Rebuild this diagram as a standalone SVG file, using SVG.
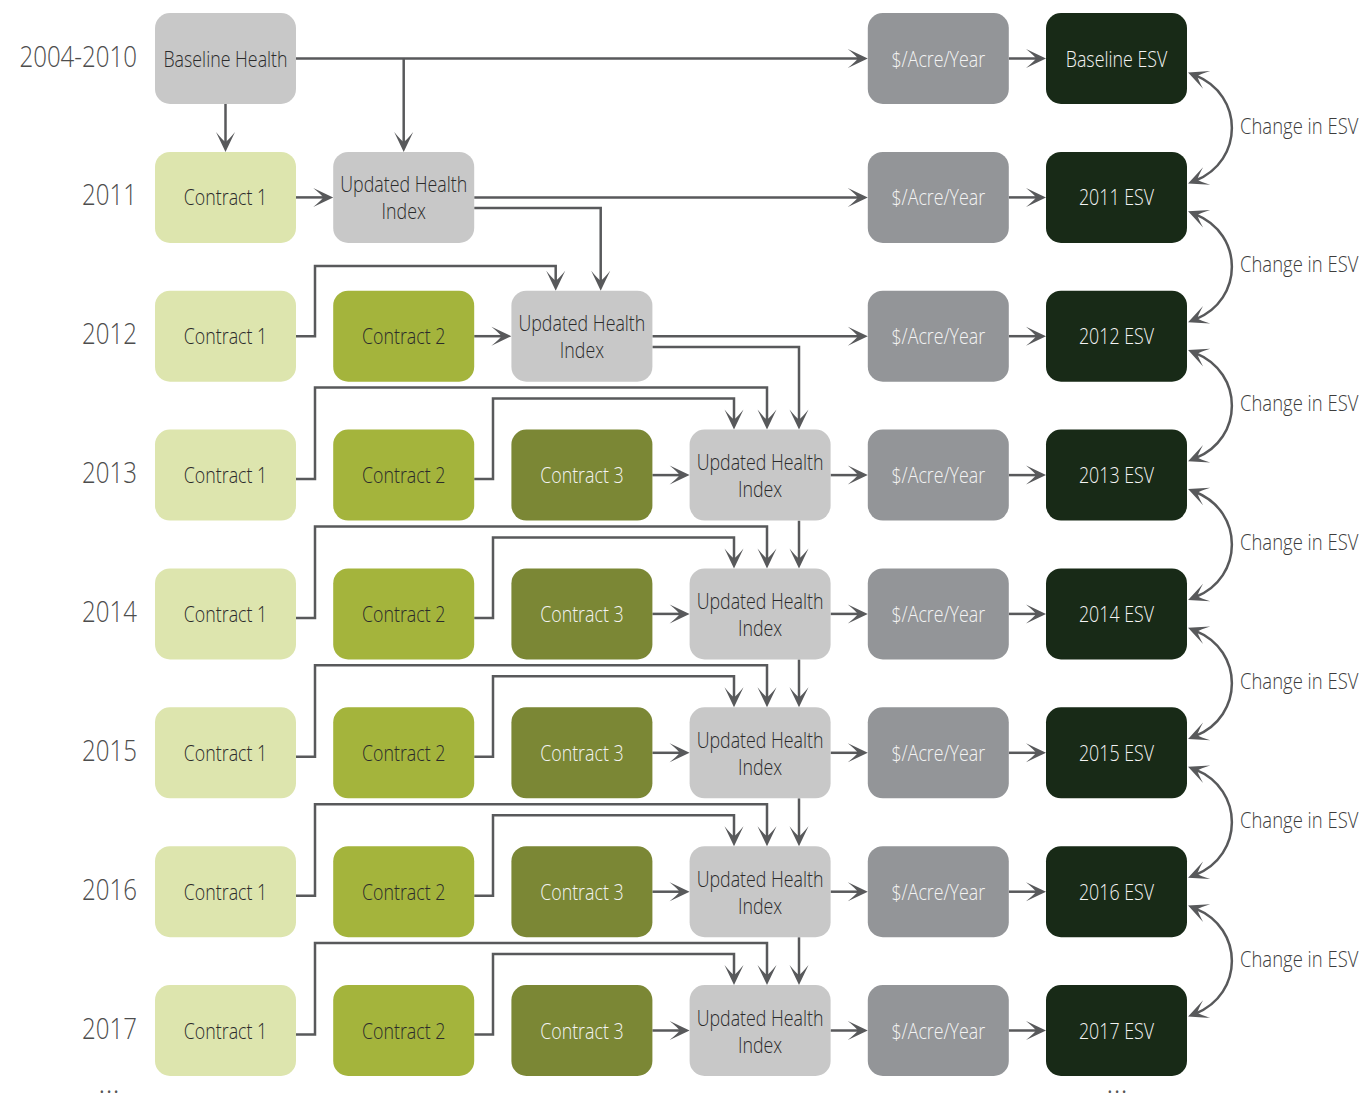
<svg xmlns="http://www.w3.org/2000/svg" width="1365" height="1095" viewBox="0 0 1365 1095">
<style>
.n{stroke:none}
.bh{fill:#c8c8c8}
.c1{fill:#dde5ae}
.c2{fill:#a4b43c}
.c3{fill:#7b8735}
.ac{fill:#939598}
.es{fill:#182a17}
text{font-family:"Open Sans","Liberation Sans",sans-serif;font-weight:300;font-size:22px;text-anchor:middle}
.td{fill:#2b2b2b}
.tw{fill:#f4f4f4}
.yr{font-size:29px;fill:#4d4d4d;text-anchor:end}
.ch{fill:#3d3d3d;text-anchor:start}
.el{font-size:30px;fill:#555555}
#connectors path{fill:none;stroke:#58595b;stroke-width:2.5;marker-end:url(#ah)}
#connectors path.cv{marker-start:url(#ah)}
</style>
<defs>
<marker id="ah" viewBox="0 0 22 22" refX="13" refY="11" markerWidth="22" markerHeight="22" markerUnits="userSpaceOnUse" orient="auto-start-reverse">
<path d="M21,11 L1,1.5 Q9,8 11,11 Q9,14 1,20.5 Z" fill="#58595b"/>
</marker>
</defs>

<g id="year-labels">
<text class="yr" transform="translate(137,66.5) scale(0.83,1)">2004-2010</text>
<text class="yr" transform="translate(137,205.4) scale(0.83,1)">2011</text>
<text class="yr" transform="translate(137,344.2) scale(0.83,1)">2012</text>
<text class="yr" transform="translate(137,483.1) scale(0.83,1)">2013</text>
<text class="yr" transform="translate(137,621.9) scale(0.83,1)">2014</text>
<text class="yr" transform="translate(137,760.8) scale(0.83,1)">2015</text>
<text class="yr" transform="translate(137,899.7) scale(0.83,1)">2016</text>
<text class="yr" transform="translate(137,1038.5) scale(0.83,1)">2017</text>
<text class="el" x="109" y="1093">...</text>
<text class="el" x="1117" y="1093">...</text>
</g>

<g id="connectors">
<path d="M296,58.5 H859.8"/>
<path d="M403.7,58.5 V143.9"/>
<path d="M225.5,104 V143.9"/>
<path d="M1008.8,58.5 H1038"/>
<path d="M296,197.4 H325.2"/>
<path d="M474.2,197.4 H859.8"/>
<path d="M474.2,208 H600.7 V282.7"/>
<path d="M1008.8,197.4 H1038"/>
<path d="M296,336.2 H315 V266 H555.7 V282.7"/>
<path d="M474.2,336.2 H503.4"/>
<path d="M652.4,336.2 H859.8"/>
<path d="M652.4,347 H799 V421.6"/>
<path d="M1008.8,336.2 H1038"/>
<path d="M296,479.1 H315 V387.6 H767 V421.6"/>
<path d="M474.2,479.1 H493 V398.6 H734 V421.6"/>
<path d="M652.4,475.1 H681.6"/>
<path d="M830.6,475.1 H859.8"/>
<path d="M1008.8,475.1 H1038"/>
<path d="M296,617.9 H315 V526.4 H767 V560.4"/>
<path d="M474.2,617.9 H493 V537.4 H734 V560.4"/>
<path d="M799,520.6 V560.4"/>
<path d="M652.4,613.9 H681.6"/>
<path d="M830.6,613.9 H859.8"/>
<path d="M1008.8,613.9 H1038"/>
<path d="M296,756.8 H315 V665.3 H767 V699.3"/>
<path d="M474.2,756.8 H493 V676.3 H734 V699.3"/>
<path d="M799,659.4 V699.3"/>
<path d="M652.4,752.8 H681.6"/>
<path d="M830.6,752.8 H859.8"/>
<path d="M1008.8,752.8 H1038"/>
<path d="M296,895.7 H315 V804.2 H767 V838.2"/>
<path d="M474.2,895.7 H493 V815.2 H734 V838.2"/>
<path d="M799,798.3 V838.2"/>
<path d="M652.4,891.7 H681.6"/>
<path d="M830.6,891.7 H859.8"/>
<path d="M1008.8,891.7 H1038"/>
<path d="M296,1034.5 H315 V943 H767 V977"/>
<path d="M474.2,1034.5 H493 V954 H734 V977"/>
<path d="M799,937.2 V977"/>
<path d="M652.4,1030.5 H681.6"/>
<path d="M830.6,1030.5 H859.8"/>
<path d="M1008.8,1030.5 H1038"/>
<path class="cv" d="M1195.5,75.4 C1244,95 1244,160.9 1195.5,180.5"/>
<path class="cv" d="M1195.5,214.3 C1244,233.9 1244,299.7 1195.5,319.3"/>
<path class="cv" d="M1195.5,353.1 C1244,372.7 1244,438.6 1195.5,458.2"/>
<path class="cv" d="M1195.5,492 C1244,511.6 1244,577.4 1195.5,597"/>
<path class="cv" d="M1195.5,630.8 C1244,650.4 1244,716.3 1195.5,735.9"/>
<path class="cv" d="M1195.5,769.7 C1244,789.3 1244,855.2 1195.5,874.8"/>
<path class="cv" d="M1195.5,908.6 C1244,928.2 1244,994 1195.5,1013.6"/>
</g>

<g id="change-labels">
<text class="ch" transform="translate(1240,133.5) scale(0.84,1)">Change in ESV</text>
<text class="ch" transform="translate(1240,272.3) scale(0.84,1)">Change in ESV</text>
<text class="ch" transform="translate(1240,411.2) scale(0.84,1)">Change in ESV</text>
<text class="ch" transform="translate(1240,550) scale(0.84,1)">Change in ESV</text>
<text class="ch" transform="translate(1240,688.9) scale(0.84,1)">Change in ESV</text>
<text class="ch" transform="translate(1240,827.8) scale(0.84,1)">Change in ESV</text>
<text class="ch" transform="translate(1240,966.6) scale(0.84,1)">Change in ESV</text>
</g>

<g id="baseline-health"><rect class="bh" x="155" y="13" width="141" height="91" rx="15"/><text class="td" transform="translate(225.5,66.5) scale(0.81,1)">Baseline Health</text></g>
<g id="acre-2010"><rect class="ac" x="867.8" y="13" width="141" height="91" rx="15"/><text class="tw" transform="translate(938.3,66.5) scale(0.81,1)">$/Acre/Year</text></g>
<g id="esv-baseline"><rect class="es" x="1046" y="13" width="141" height="91" rx="15"/><text class="tw" transform="translate(1116.5,66.5) scale(0.81,1)">Baseline ESV</text></g>

<g id="c1-2011"><rect class="c1" x="155" y="151.9" width="141" height="91" rx="15"/><text class="td" transform="translate(225.5,205.4) scale(0.81,1)">Contract 1</text></g>
<g id="uh-2011"><rect class="bh" x="333.2" y="151.9" width="141" height="91" rx="15"/><text class="td" transform="translate(403.7,192.4) scale(0.81,1)">Updated Health</text><text class="td" transform="translate(403.7,219.4) scale(0.81,1)">Index</text></g>
<g id="acre-2011"><rect class="ac" x="867.8" y="151.9" width="141" height="91" rx="15"/><text class="tw" transform="translate(938.3,205.4) scale(0.81,1)">$/Acre/Year</text></g>
<g id="esv-2011"><rect class="es" x="1046" y="151.9" width="141" height="91" rx="15"/><text class="tw" transform="translate(1116.5,205.4) scale(0.81,1)">2011 ESV</text></g>

<g id="c1-2012"><rect class="c1" x="155" y="290.7" width="141" height="91" rx="15"/><text class="td" transform="translate(225.5,344.2) scale(0.81,1)">Contract 1</text></g>
<g id="c2-2012"><rect class="c2" x="333.2" y="290.7" width="141" height="91" rx="15"/><text class="td" transform="translate(403.7,344.2) scale(0.81,1)">Contract 2</text></g>
<g id="uh-2012"><rect class="bh" x="511.4" y="290.7" width="141" height="91" rx="15"/><text class="td" transform="translate(581.9,331.2) scale(0.81,1)">Updated Health</text><text class="td" transform="translate(581.9,358.2) scale(0.81,1)">Index</text></g>
<g id="acre-2012"><rect class="ac" x="867.8" y="290.7" width="141" height="91" rx="15"/><text class="tw" transform="translate(938.3,344.2) scale(0.81,1)">$/Acre/Year</text></g>
<g id="esv-2012"><rect class="es" x="1046" y="290.7" width="141" height="91" rx="15"/><text class="tw" transform="translate(1116.5,344.2) scale(0.81,1)">2012 ESV</text></g>

<g id="c1-2013"><rect class="c1" x="155" y="429.6" width="141" height="91" rx="15"/><text class="td" transform="translate(225.5,483.1) scale(0.81,1)">Contract 1</text></g>
<g id="c2-2013"><rect class="c2" x="333.2" y="429.6" width="141" height="91" rx="15"/><text class="td" transform="translate(403.7,483.1) scale(0.81,1)">Contract 2</text></g>
<g id="c3-2013"><rect class="c3" x="511.4" y="429.6" width="141" height="91" rx="15"/><text class="tw" transform="translate(581.9,483.1) scale(0.81,1)">Contract 3</text></g>
<g id="uh-2013"><rect class="bh" x="689.6" y="429.6" width="141" height="91" rx="15"/><text class="td" transform="translate(760.1,470.1) scale(0.81,1)">Updated Health</text><text class="td" transform="translate(760.1,497.1) scale(0.81,1)">Index</text></g>
<g id="acre-2013"><rect class="ac" x="867.8" y="429.6" width="141" height="91" rx="15"/><text class="tw" transform="translate(938.3,483.1) scale(0.81,1)">$/Acre/Year</text></g>
<g id="esv-2013"><rect class="es" x="1046" y="429.6" width="141" height="91" rx="15"/><text class="tw" transform="translate(1116.5,483.1) scale(0.81,1)">2013 ESV</text></g>

<g id="c1-2014"><rect class="c1" x="155" y="568.4" width="141" height="91" rx="15"/><text class="td" transform="translate(225.5,621.9) scale(0.81,1)">Contract 1</text></g>
<g id="c2-2014"><rect class="c2" x="333.2" y="568.4" width="141" height="91" rx="15"/><text class="td" transform="translate(403.7,621.9) scale(0.81,1)">Contract 2</text></g>
<g id="c3-2014"><rect class="c3" x="511.4" y="568.4" width="141" height="91" rx="15"/><text class="tw" transform="translate(581.9,621.9) scale(0.81,1)">Contract 3</text></g>
<g id="uh-2014"><rect class="bh" x="689.6" y="568.4" width="141" height="91" rx="15"/><text class="td" transform="translate(760.1,608.9) scale(0.81,1)">Updated Health</text><text class="td" transform="translate(760.1,635.9) scale(0.81,1)">Index</text></g>
<g id="acre-2014"><rect class="ac" x="867.8" y="568.4" width="141" height="91" rx="15"/><text class="tw" transform="translate(938.3,621.9) scale(0.81,1)">$/Acre/Year</text></g>
<g id="esv-2014"><rect class="es" x="1046" y="568.4" width="141" height="91" rx="15"/><text class="tw" transform="translate(1116.5,621.9) scale(0.81,1)">2014 ESV</text></g>

<g id="c1-2015"><rect class="c1" x="155" y="707.3" width="141" height="91" rx="15"/><text class="td" transform="translate(225.5,760.8) scale(0.81,1)">Contract 1</text></g>
<g id="c2-2015"><rect class="c2" x="333.2" y="707.3" width="141" height="91" rx="15"/><text class="td" transform="translate(403.7,760.8) scale(0.81,1)">Contract 2</text></g>
<g id="c3-2015"><rect class="c3" x="511.4" y="707.3" width="141" height="91" rx="15"/><text class="tw" transform="translate(581.9,760.8) scale(0.81,1)">Contract 3</text></g>
<g id="uh-2015"><rect class="bh" x="689.6" y="707.3" width="141" height="91" rx="15"/><text class="td" transform="translate(760.1,747.8) scale(0.81,1)">Updated Health</text><text class="td" transform="translate(760.1,774.8) scale(0.81,1)">Index</text></g>
<g id="acre-2015"><rect class="ac" x="867.8" y="707.3" width="141" height="91" rx="15"/><text class="tw" transform="translate(938.3,760.8) scale(0.81,1)">$/Acre/Year</text></g>
<g id="esv-2015"><rect class="es" x="1046" y="707.3" width="141" height="91" rx="15"/><text class="tw" transform="translate(1116.5,760.8) scale(0.81,1)">2015 ESV</text></g>

<g id="c1-2016"><rect class="c1" x="155" y="846.2" width="141" height="91" rx="15"/><text class="td" transform="translate(225.5,899.7) scale(0.81,1)">Contract 1</text></g>
<g id="c2-2016"><rect class="c2" x="333.2" y="846.2" width="141" height="91" rx="15"/><text class="td" transform="translate(403.7,899.7) scale(0.81,1)">Contract 2</text></g>
<g id="c3-2016"><rect class="c3" x="511.4" y="846.2" width="141" height="91" rx="15"/><text class="tw" transform="translate(581.9,899.7) scale(0.81,1)">Contract 3</text></g>
<g id="uh-2016"><rect class="bh" x="689.6" y="846.2" width="141" height="91" rx="15"/><text class="td" transform="translate(760.1,886.7) scale(0.81,1)">Updated Health</text><text class="td" transform="translate(760.1,913.7) scale(0.81,1)">Index</text></g>
<g id="acre-2016"><rect class="ac" x="867.8" y="846.2" width="141" height="91" rx="15"/><text class="tw" transform="translate(938.3,899.7) scale(0.81,1)">$/Acre/Year</text></g>
<g id="esv-2016"><rect class="es" x="1046" y="846.2" width="141" height="91" rx="15"/><text class="tw" transform="translate(1116.5,899.7) scale(0.81,1)">2016 ESV</text></g>

<g id="c1-2017"><rect class="c1" x="155" y="985" width="141" height="91" rx="15"/><text class="td" transform="translate(225.5,1038.5) scale(0.81,1)">Contract 1</text></g>
<g id="c2-2017"><rect class="c2" x="333.2" y="985" width="141" height="91" rx="15"/><text class="td" transform="translate(403.7,1038.5) scale(0.81,1)">Contract 2</text></g>
<g id="c3-2017"><rect class="c3" x="511.4" y="985" width="141" height="91" rx="15"/><text class="tw" transform="translate(581.9,1038.5) scale(0.81,1)">Contract 3</text></g>
<g id="uh-2017"><rect class="bh" x="689.6" y="985" width="141" height="91" rx="15"/><text class="td" transform="translate(760.1,1025.5) scale(0.81,1)">Updated Health</text><text class="td" transform="translate(760.1,1052.5) scale(0.81,1)">Index</text></g>
<g id="acre-2017"><rect class="ac" x="867.8" y="985" width="141" height="91" rx="15"/><text class="tw" transform="translate(938.3,1038.5) scale(0.81,1)">$/Acre/Year</text></g>
<g id="esv-2017"><rect class="es" x="1046" y="985" width="141" height="91" rx="15"/><text class="tw" transform="translate(1116.5,1038.5) scale(0.81,1)">2017 ESV</text></g>
</svg>
